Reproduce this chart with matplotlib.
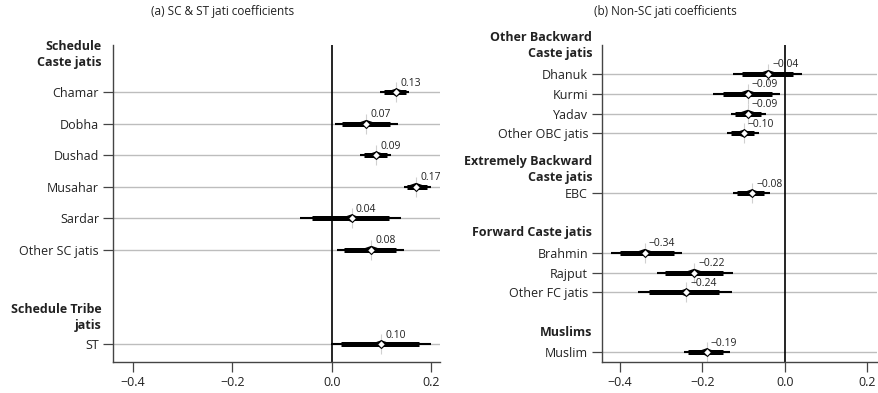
import matplotlib.pyplot as plt

plt.rcParams['font.family'] = ['Open Sans', 'DejaVu Sans']

# ---------------------------------------------------------------------
#  Coeficientes por jati (estimativa e intervalos)
# ---------------------------------------------------------------------

sc_names = ['Chamar', 'Dobha', 'Dushad', 'Musahar', 'Sardar', 'Other SC jatis', 'ST']
sc_pos = [0, 1, 2, 3, 4, 5, 8]
sc_est = [0.13, 0.07, 0.09, 0.17, 0.04, 0.08, 0.10]
sc_lo = [0.097, 0.006, 0.057, 0.146, -0.063, 0.010, -0.002]
sc_hi = [0.156, 0.133, 0.120, 0.200, 0.139, 0.146, 0.200]
sc_lo_in = [0.105, 0.020, 0.065, 0.152, -0.040, 0.025, 0.018]
sc_hi_in = [0.150, 0.118, 0.112, 0.192, 0.115, 0.130, 0.176]
sc_groups = ['Schedule\nCaste jatis', 'Schedule Tribe\njatis']
sc_group_pos = [-1.2, 7.15]

nsc_names = ['Dhanuk', 'Kurmi', 'Yadav', 'Other OBC jatis', 'EBC',
             'Brahmin', 'Rajput', 'Other FC jatis', 'Muslim']
nsc_pos = [0, 1, 2, 3, 6, 9, 10, 11, 14]
nsc_est = [-0.04, -0.09, -0.09, -0.10, -0.08, -0.34, -0.22, -0.24, -0.19]
nsc_lo = [-0.127, -0.175, -0.130, -0.141, -0.126, -0.422, -0.310, -0.356, -0.246]
nsc_hi = [0.041, -0.012, -0.046, -0.063, -0.037, -0.249, -0.127, -0.129, -0.134]
nsc_lo_in = [-0.105, -0.150, -0.120, -0.130, -0.115, -0.400, -0.290, -0.330, -0.235]
nsc_hi_in = [0.020, -0.032, -0.058, -0.075, -0.050, -0.270, -0.150, -0.160, -0.150]
nsc_groups = ['Other Backward\nCaste jatis', 'Extremely Backward\nCaste jatis',
              'Forward Caste jatis', 'Muslims']
nsc_group_pos = [-1.4, 4.8, 8.0, 13.0]

xticks = [-0.4, -0.2, 0.0, 0.2]


def painel(ax, names, pos, est, lo, hi, lo_in, hi_in, groups, group_pos,
           xlim, ylim, xpx, ypx):
    # xpx / ypx = unidades do eixo por pixel (para desenhar o miolo do fuso)
    for n, y, e, a, b, ai, bi in zip(names, pos, est, lo, hi, lo_in, hi_in):
        ax.axhline(y, color='#bdbdbd', lw=1.0, zorder=1)
        ax.plot([a, b], [y, y], color='black', lw=1.5, solid_capstyle='butt', zorder=3)
        ax.plot([ai, bi], [y, y], color='black', lw=3.6, solid_capstyle='butt', zorder=3)
        # miolo em losango ao redor da estimativa
        w = 11 * xpx
        xs = [e - w, e, e + w, e]
        ys = [y, y - 3.8 * ypx, y, y + 3.8 * ypx]
        ax.fill(xs, ys, color='black', lw=0, zorder=3)
        ax.plot(e, y, marker='|', ms=15, mew=0.8, color='#d0d0d0', zorder=2)
        ax.plot(e, y, marker='D', ms=4.0, mfc='white', mec='black', mew=0.8, zorder=4)
        txt = f'{e:.2f}'.replace('-', '\u2212')
        ax.annotate(txt, (e, y), xytext=(3, 2.5), textcoords='offset points',
                    fontsize=7.5, color='#222222', ha='left', va='bottom', zorder=5)

    ax.axvline(0, color='black', lw=1.2, zorder=2)
    ax.set_xlim(*xlim)
    ax.set_ylim(*ylim)
    ax.set_yticks(pos)
    ax.set_yticklabels(names, fontsize=9, color='#222222')
    ax.set_xticks(xticks)
    ax.set_xticklabels([f'{v:.1f}'.replace('-', '\u2212') for v in xticks],
                       fontsize=9, color='#222222')
    ax.tick_params(length=7, width=0.9, color='#444444', pad=3)
    for s in ['top', 'right']:
        ax.spines[s].set_visible(False)
    for s in ['left', 'bottom']:
        ax.spines[s].set_color('#444444')
        ax.spines[s].set_linewidth(1.0)

    for g, gy in zip(groups, group_pos):
        ax.text(-0.035, gy, g, transform=ax.get_yaxis_transform(), ha='right',
                va='center', fontsize=9, fontweight='bold', color='#222222',
                linespacing=1.3, clip_on=False)


fig = plt.figure(figsize=(8.79, 3.93), dpi=100)

ax1 = fig.add_axes([113 / 879, 31 / 393, 327 / 879, 317 / 393])
ax2 = fig.add_axes([602 / 879, 31 / 393, 275 / 879, 317 / 393])

painel(ax1, sc_names, sc_pos, sc_est, sc_lo, sc_hi, sc_lo_in, sc_hi_in,
       sc_groups, sc_group_pos, (-0.44, 0.218), (8.57, -1.5), 1 / 495, 1 / 31.5)
painel(ax2, nsc_names, nsc_pos, nsc_est, nsc_lo, nsc_hi, nsc_lo_in, nsc_hi_in,
       nsc_groups, nsc_group_pos, (-0.444, 0.224), (14.5, -1.45), 1 / 410, 1 / 19.85)

fig.text(0.253, 0.972, '(a) SC & ST jati coefficients', ha='center', va='center',
         fontsize=8.5, color='#222222')
fig.text(0.757, 0.972, '(b) Non-SC jati coefficients', ha='center', va='center',
         fontsize=8.5, color='#222222')

plt.savefig('out.png', dpi=100)
